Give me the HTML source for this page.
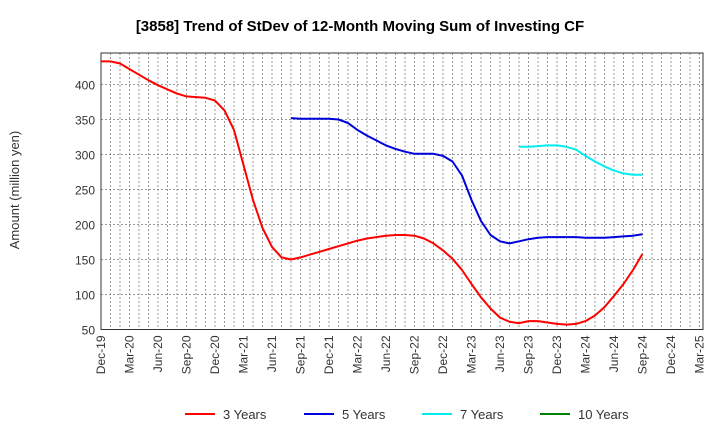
<!DOCTYPE html>
<html><head><meta charset="utf-8"><style>
body{margin:0;background:#fff;font-family:"Liberation Sans",sans-serif}
</style></head><body>
<svg id="chart" width="720" height="440" xmlns="http://www.w3.org/2000/svg" font-family="Liberation Sans, sans-serif">
<text x="360" y="31" text-anchor="middle" font-size="15" font-weight="bold">[3858]  Trend of StDev of 12-Month Moving Sum of Investing CF</text>
<text transform="translate(19,190) rotate(-90)" text-anchor="middle" font-size="13" fill="#333">Amount (million yen)</text>
<g id="grid"></g><g id="axes"></g><g id="series"></g><g id="legend"></g>
</svg>
<script>
const months = 64; // Dec-19 .. Mar-25
const xTickLabels = ["Dec-19","Mar-20","Jun-20","Sep-20","Dec-20","Mar-21","Jun-21","Sep-21","Dec-21","Mar-22","Jun-22","Sep-22","Dec-22","Mar-23","Jun-23","Sep-23","Dec-23","Mar-24","Jun-24","Sep-24","Dec-24","Mar-25"];
const yTicks = [50,100,150,200,250,300,350,400];
const red3 = [433,433,430,422,414,406,399,393,387,383,382,381,377,363,335,285,235,195,168,153,150,153,157,161,165,169,173,177,180,182,184,185,185,184,180,173,163,151,135,115,96,80,67,61,59,62,62,60,58,57,58,62,70,82,98,115,135,158];
const redStart = 0;
const blue5 = [352,351,351,351,351,350,345,335,327,320,313,308,304,301,301,301,298,290,270,235,205,185,176,173,176,179,181,182,182,182,182,181,181,181,182,183,184,186];
const blueStart = 20;
const cyan7 = [311,311,312,313,313,311,307,298,290,283,277,273,271,271];
const cyanStart = 44;
const green10 = [];
const L=101,R=703,T=53,B=329.5;
const xs = m => L + m*9.5;
const ys = v => B - (v-50)*0.7;
const NS="http://www.w3.org/2000/svg";
function mk(tag, attrs, parent){const e=document.createElementNS(NS,tag);for(const k in attrs)e.setAttribute(k,attrs[k]);document.getElementById(parent).appendChild(e);return e;}
for(let m=1;m<months;m++){
  const g=mk('line',{x1:xs(m),x2:xs(m),y1:T,y2:B,stroke:'#999','stroke-dasharray':'2,2','stroke-width':1},'grid');
  
  
}
yTicks.forEach(v=>{
  const g=mk('line',{x1:L,x2:R,y1:ys(v),y2:ys(v),stroke:'#999','stroke-dasharray':'2,2','stroke-width':1},'grid');
  
  
  const t=mk('text',{x:L-6,y:ys(v)+5,'text-anchor':'end','font-size':12,fill:'#333'},'axes');
  t.textContent=v;
  
  
});
xTickLabels.forEach((lab,i)=>{
  const x=xs(i*3);
  const t=mk('text',{transform:`translate(${x+4},${B+6}) rotate(-90)`,'text-anchor':'end','font-size':12,fill:'#333'},'axes');
  t.textContent=lab;
  
  
});
const frame=mk('rect',{x:L,y:T,width:R-L,height:B-T,fill:'none',stroke:'#333','stroke-width':1},'axes');


function line(data,start,color,name){
  if(!data.length)return;
  const pts=data.map((v,i)=>xs(start+i).toFixed(1)+','+ys(v).toFixed(1)).join(' ');
  const p=mk('polyline',{points:pts,fill:'none',stroke:color,'stroke-width':2,'stroke-linejoin':'round'},'series');
  
  
}
line(red3,redStart,'#ff0000','line-3-years');
line(blue5,blueStart,'#0000dd','line-5-years');
line(cyan7,cyanStart,'#00eeee','line-7-years');
line(green10,0,'#008000','line-10-years');
const leg=[["3 Years","#ff0000",185],["5 Years","#0000dd",304],["7 Years","#00eeee",422],["10 Years","#008000",540]];
leg.forEach(([lab,c,x])=>{
  const l=mk('line',{x1:x,x2:x+30,y1:414,y2:414,stroke:c,'stroke-width':2},'legend');
  
  
  const t=mk('text',{x:x+38,y:419,'font-size':13,fill:'#333'},'legend');
  t.textContent=lab;
  
  
});
</script>
</body></html>
